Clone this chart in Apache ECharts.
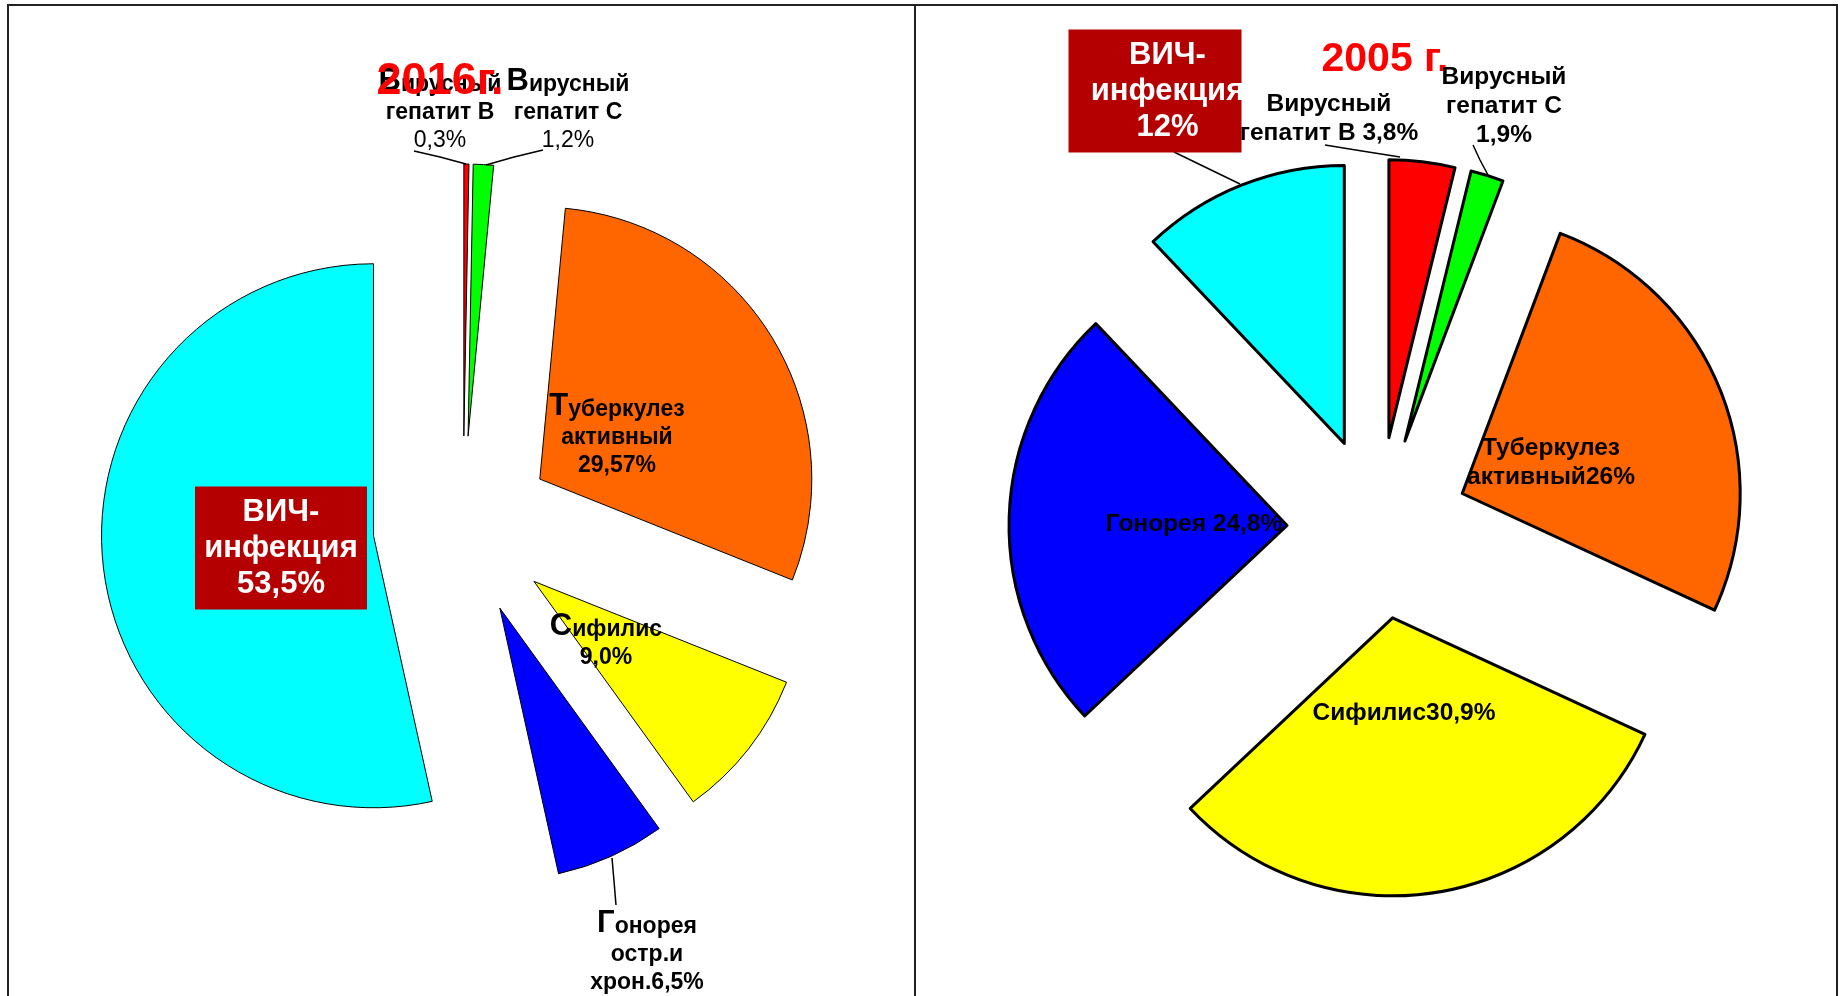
<!DOCTYPE html>
<html>
<head>
<meta charset="utf-8">
<script src="https://cdn.jsdelivr.net/npm/echarts@6/dist/echarts.min.js"></script>
<style>
html,body{margin:0;padding:0;background:#fff;}
#main{width:1843px;height:996px;}
</style>
</head>
<body>
<div id="main"></div>
<script>
// data
var names = ['Вирусный гепатит В', 'Вирусный гепатит С', 'Туберкулез активный', 'Сифилис', 'Гонорея', 'ВИЧ-инфекция'];
var values2016 = [0.3, 1.2, 29.57, 9.0, 6.5, 53.5];
var values2005 = [3.8, 1.9, 26, 30.9, 24.8, 12];
var labels2016 = ['Вирусный\nгепатит В\n0,3%', 'Вирусный\nгепатит С\n1,2%', 'Туберкулез\nактивный\n29,57%', 'Сифилис\n9,0%', 'Гонорея\nостр.и\nхрон.6,5%', 'ВИЧ-\nинфекция\n53,5%'];
var labels2005 = ['Вирусный\nгепатит В 3,8%', 'Вирусный\nгепатит С\n1,9%', 'Туберкулез\nактивный26%', 'Сифилис30,9%', 'Гонорея 24,8%', 'ВИЧ-\nинфекция\n12%'];
var years = ['2016г.', '2005 г.'];

// styles
var colors = ['#ff0000', '#00ff00', '#ff6600', '#ffff00', '#0000ff', '#00ffff'];
var FONT = '"Liberation Sans", Arial, sans-serif';
var BOX = '#b40000';

// label anchors / leader lines (page px)
var layout2016 = [
  {x: 440, y: 106, line: [[466, 164], [440, 157], [414, 151]]},
  {x: 568, y: 106, line: [[486, 165], [514, 157], [543, 150]]},
  {x: 617, y: 431},
  {x: 606, y: 637},
  {x: 647, y: 948, line: [[612, 858], [614, 881], [616, 905]]},
  {x: 281, y: 548}
];
var layout2005 = [
  {x: 1329, y: 117, line: [[1400, 157], [1362, 151], [1325, 145]]},
  {x: 1504, y: 104, line: [[1488, 175], [1480, 160], [1473, 145]]},
  {x: 1551, y: 461},
  {x: 1404, y: 711},
  {x: 1194, y: 522},
  {x: 1155, y: 91, line: [[1240, 184], [1207, 168], [1174, 152]]}
];

function richText(text, big, lastRegular) {
  var lines = text.split('\n');
  return lines.map(function (l, k) {
    if (k === 0 && big) return '{b|' + l.charAt(0) + '}{n|' + l.slice(1) + '}';
    if (k === lines.length - 1 && lastRegular) return '{r|' + l + '}';
    return '{n|' + l + '}';
  }).join('\n');
}

// exploded slices
function makePie(values, cfg) {
  return {
    type: 'pie',
    center: cfg.center,
    radius: cfg.radius,
    startAngle: 90,
    clockwise: true,
    selectedMode: 'multiple',
    selectedOffset: cfg.offset,
    animation: false,
    silent: true,
    emphasis: {disabled: true},
    itemStyle: {borderColor: '#000', borderWidth: cfg.border},
    select: {itemStyle: {borderColor: '#000', borderWidth: cfg.border}},
    label: {show: false},
    labelLine: {show: false},
    data: values.map(function (v, i) {
      return {value: v, name: names[i], selected: true, itemStyle: {color: colors[i]}};
    })
  };
}

// same pie, invisible, only carries the labels
function makeLabels(values, labels, cfg) {
  var fs = cfg.fontSize, lh = cfg.lineHeight;
  return {
    type: 'pie',
    z: 3,
    center: cfg.center,
    radius: cfg.radius,
    startAngle: 90,
    clockwise: true,
    animation: false,
    silent: true,
    avoidLabelOverlap: false,
    emphasis: {disabled: true},
    itemStyle: {color: 'rgba(0,0,0,0)', borderWidth: 0},
    label: {
      show: true,
      fontFamily: FONT,
      color: '#000',
      formatter: function (p) {
        var t = labels[p.dataIndex];
        if (p.dataIndex === 5) return t;
        return richText(t, cfg.big, cfg.big && p.dataIndex < 2);
      },
      rich: {
        b: {fontSize: 31, fontWeight: 'bold', color: '#000', fontFamily: FONT, lineHeight: 37, verticalAlign: 'bottom'},
        n: {fontSize: fs, fontWeight: 'bold', color: '#000', fontFamily: FONT, lineHeight: lh, verticalAlign: 'bottom'},
        r: {fontSize: fs, fontWeight: 'normal', color: '#000', fontFamily: FONT, lineHeight: lh, verticalAlign: 'bottom'}
      }
    },
    labelLine: {show: false, smooth: false, lineStyle: {color: '#000', width: 1.5}},
    labelLayout: function (p) {
      var L = cfg.layout[p.dataIndex];
      var res = {x: L.x, y: L.y, align: 'center', verticalAlign: 'middle'};
      if (L.line) res.labelLinePoints = L.line;
      return res;
    },
    data: values.map(function (v, i) {
      var item = {
        value: v,
        name: names[i],
        label: {position: cfg.layout[i].line ? 'outside' : 'inside'},
        labelLine: {show: !!cfg.layout[i].line}
      };
      if (i === 5) {
        item.label.color = '#fff';
        item.label.fontSize = 31;
        item.label.fontWeight = 'bold';
        item.label.fontFamily = FONT;
        item.label.lineHeight = 36;
        item.label.backgroundColor = BOX;
        item.label.width = cfg.boxWidth;
        item.label.overflow = 'none';
        item.label.padding = cfg.boxPadding;
      }
      return item;
    })
  };
}

var cfg2016 = {
  center: [463, 526], radius: 272, offset: 90, border: 1, big: true,
  fontSize: 23, lineHeight: 28,
  layout: layout2016, boxWidth: 172, boxPadding: [8, 0, 7, 0]
};
var cfg2005 = {
  center: [1378, 528], radius: 278, offset: 91, border: 3, big: false,
  fontSize: 24.5, lineHeight: 29,
  layout: layout2005, boxWidth: 148, boxPadding: [8, 0, 7, 25]
};

var chart = echarts.init(document.getElementById('main'));
var option = {
  backgroundColor: '#fff',
  animation: false,
  graphic: [
    {type: 'rect', shape: {x: 8, y: 5, width: 1829, height: 1010}, style: {fill: null, stroke: '#222', lineWidth: 2}},
    {type: 'line', shape: {x1: 915, y1: 5, x2: 915, y2: 996}, style: {stroke: '#222', lineWidth: 2}},
    {type: 'text', x: 440, y: 82, z: 100, style: {text: years[0], font: 'bold 45px ' + FONT, fill: '#ff0000', align: 'center', verticalAlign: 'middle'}},
    {type: 'text', x: 1385, y: 60, z: 0, style: {text: years[1], font: 'bold 41px ' + FONT, fill: '#ff0000', align: 'center', verticalAlign: 'middle'}}
  ],
  series: [
    makePie(values2016, cfg2016),
    makePie(values2005, cfg2005),
    makeLabels(values2016, labels2016, cfg2016),
    makeLabels(values2005, labels2005, cfg2005)
  ]
};
chart.setOption(option);
</script>
</body>
</html>
